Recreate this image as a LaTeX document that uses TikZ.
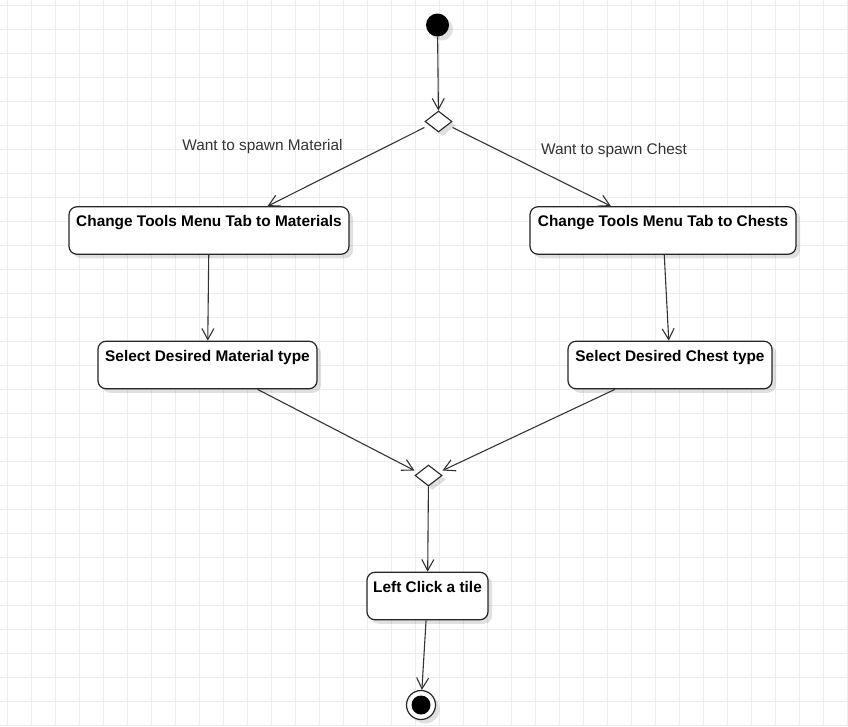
\documentclass[tikz,border=0pt]{standalone}
\usepackage{fontspec}
\setmainfont{Liberation Sans}
\usetikzlibrary{positioning, arrows.meta, shapes.geometric, shadows}
\definecolor{gridgray}{HTML}{EDEDED}
\definecolor{linegray}{HTML}{333333}

\begin{document}
\begin{tikzpicture}[x=1pt,y=-1pt,on grid,
    flow/.style={color=linegray, line width=1.1pt, -{Straight Barb[length=11pt,width=12pt]}},
    shade/.style={drop shadow={shadow xshift=4pt, shadow yshift=-4pt, fill=black, opacity=.12}},
    action/.style={draw=black!85, line width=1.2pt, fill=white, rounded corners=8pt, shade,
      inner sep=0pt, text height=20pt, text depth=27.5pt,
      font=\fontsize{15.4pt}{18pt}\selectfont\bfseries},
    choice/.style={diamond, draw=black!85, line width=1.1pt, fill=white, shade,
      inner sep=0pt, minimum width=27pt, minimum height=21pt},
    startdot/.style={circle, fill=black, shade, inner sep=0pt, minimum size=23pt},
    endring/.style={circle, draw=black!85, line width=1.2pt, fill=white, shade, inner sep=0pt, minimum size=29pt},
    endcore/.style={circle, fill=black, inner sep=0pt, minimum size=19pt},
    guard/.style={inner sep=0pt, anchor=base, text=linegray, font=\fontsize{15.4pt}{18pt}\selectfont}]
  \useasboundingbox (0,0) rectangle (848,726);
  \fill[white] (0,0) rectangle (848,726);
  \foreach \gx in {7.5,31.5,...,848} \draw[gridgray, line width=.8pt] (\gx,0) -- (\gx,726);
  \foreach \gy in {5.5,29.5,...,726} \draw[gridgray, line width=.8pt] (0,\gy) -- (848,\gy);

  \node[startdot] (start) at (437.5,25) {};
  \node[choice] (fork) [below right=96.5pt and 1pt of start] {};
  \node[action, minimum width=280pt] (tabmat) [below left=109pt and 229.5pt of fork] {Change Tools Menu Tab to Materials};
  \node[action, minimum width=266pt] (tabchest) [below right=109pt and 224.5pt of fork] {Change Tools Menu Tab to Chests};
  \node[action, minimum width=219pt] (selmat) [below left=134.5pt and 1.5pt of tabmat] {Select Desired Material type};
  \node[action, minimum width=204pt] (selchest) [below right=134.5pt and 7pt of tabchest] {Select Desired Chest type};
  \node[choice] (merge) [below left=354pt and 10pt of fork] {};
  \node[action, minimum width=121pt] (click) [below left=120.5pt and 1pt of merge] {Left Click a tile};
  \node[endring] (end) [below left=109pt and 6.5pt of click] {};
  \node[endcore] (endcore) at (end) {};

  \node[guard] (wantmat) at (262.5,150) {Want to spawn Material};
  \node[guard] (wantchest) at (614,154) {Want to spawn Chest};

  \path[flow]
    (start) edge (fork)
    ([yshift=-6pt]fork.west) edge ([xshift=58.5pt]tabmat.north)
    ([yshift=-6pt]fork.east) edge ([xshift=-52pt]tabchest.north)
    (tabmat) edge (selmat)
    (tabchest) edge (selchest)
    ([xshift=50pt]selmat.south) edge ([yshift=5pt]merge.west)
    ([xshift=-55pt]selchest.south) edge ([yshift=5pt]merge.east)
    (merge) edge (click)
    (click) edge (end);
\end{tikzpicture}
\end{document}
